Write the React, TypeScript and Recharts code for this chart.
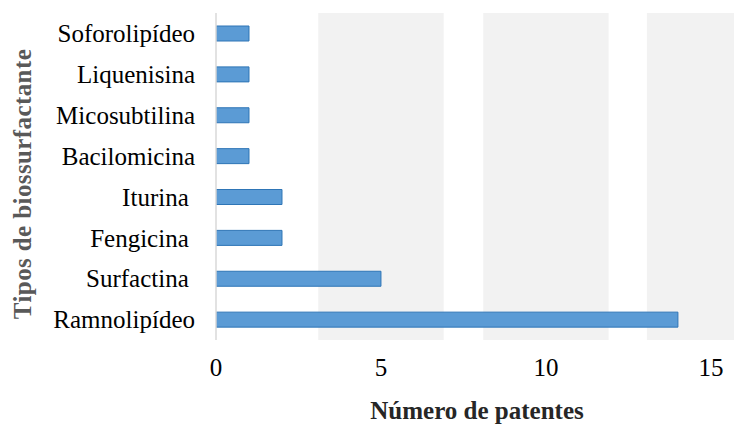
import React from 'react';
import { BarChart, Bar, XAxis, YAxis, ReferenceArea } from 'recharts';

// some labels carry a trailing space in the source chart
const categories = [
  'Soforolipídeo',
  'Liquenisina',
  'Micosubtilina',
  'Bacilomicina',
  'Iturina\u00a0',
  'Fengicina\u00a0',
  'Surfactina\u00a0',
  'Ramnolipídeo',
];
const patentes = [1, 1, 1, 1, 2, 2, 5, 14];
const xTicks = [0, 5, 10, 15];
// shaded background bands (in axis units)
const bands = [
  [3.1, 6.9],
  [8.1, 11.9],
  [13.06, 15.7],
];

const data = categories.map((name, i) => ({ name, value: patentes[i] }));

const FONT = '"Liberation Serif", "Times New Roman", serif';

const YTick = (props: any) => {
  const { y, payload } = props;
  return (
    <text x={195} y={y} dy="0.35em" textAnchor="end" fontFamily={FONT} fontSize={25} fill="#000" style={{ whiteSpace: 'pre' }}>
      {payload.value}
    </text>
  );
};

const XTick = (props: any) => {
  const { x, payload } = props;
  return (
    <text x={x} y={376} textAnchor="middle" fontFamily={FONT} fontSize={25} fill="#000">
      {payload.value}
    </text>
  );
};

export default function App() {
  return (
    <div style={{ position: 'absolute', left: 0, top: 0, width: 734, height: 425, background: '#fff' }}>
      <BarChart
        width={734}
        height={425}
        data={data}
        layout="vertical"
        margin={{ top: 13, right: 0, left: 0, bottom: 0 }}
        barCategoryGap={0}
      >
        {bands.map(([a, b], i) => (
          <ReferenceArea key={i} x1={a} x2={b} fill="#f2f2f2" fillOpacity={1} stroke="none" ifOverflow="hidden" />
        ))}
        <XAxis
          type="number"
          domain={[0, 15.7]}
          ticks={xTicks}
          axisLine={false}
          tickLine={false}
          height={85}
          tick={<XTick />}
          allowDataOverflow
        />
        <YAxis
          type="category"
          dataKey="name"
          width={216}
          axisLine={{ stroke: '#d9d9d9', strokeWidth: 1.5 }}
          tickLine={false}
          tick={<YTick />}
          interval={0}
        />
        <Bar
          dataKey="value"
          fill="#5b9bd5"
          stroke="#2e75b6"
          strokeWidth={1}
          barSize={15}
          isAnimationActive={false}
        />
      </BarChart>
      <div
        style={{
          position: 'absolute',
          left: 477,
          top: 411,
          transform: 'translate(-50%, -50%)',
          fontFamily: FONT,
          fontWeight: 'bold',
          fontSize: 25,
          color: '#262626',
          whiteSpace: 'nowrap',
        }}
      >
        Número de patentes
      </div>
      <div
        style={{
          position: 'absolute',
          left: 23,
          top: 184,
          transform: 'translate(-50%, -50%) rotate(-90deg)',
          fontFamily: FONT,
          fontWeight: 'bold',
          fontSize: 25,
          letterSpacing: 0.4,
          color: '#595959',
          whiteSpace: 'nowrap',
        }}
      >
        Tipos de biossurfactante
      </div>
    </div>
  );
}
